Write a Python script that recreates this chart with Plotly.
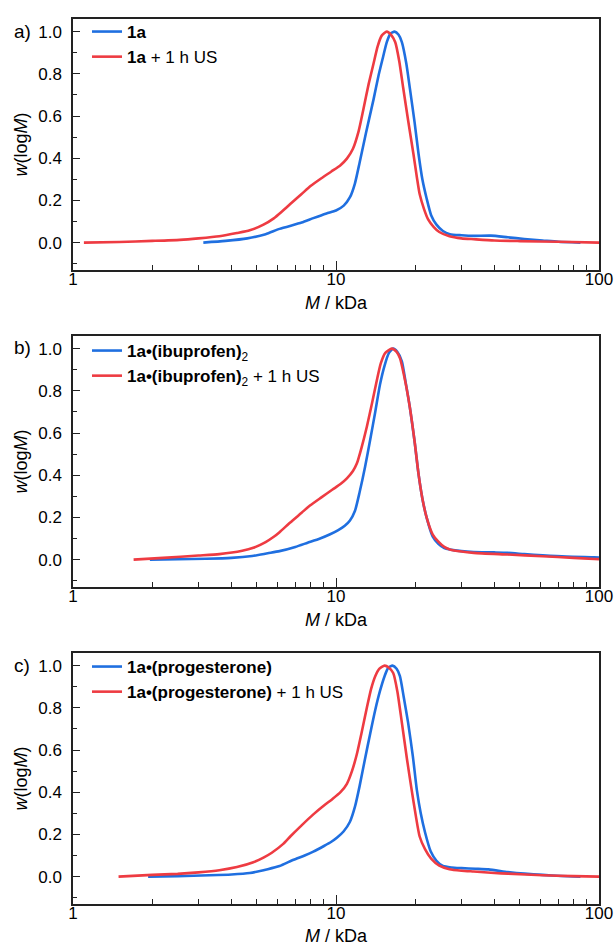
import plotly.graph_objects as go

# ---------------- data ----------------
a_blue_M = [3.13, 3.8, 4.6, 5.4, 6.1, 7.4, 8.2, 9.2, 10.0, 10.7, 11.3, 11.8, 12.3, 13.0, 13.9, 14.5, 15.1, 15.6, 16.1, 16.7,
            17.3, 17.8, 18.5, 19.1, 19.9, 20.6, 21.3, 22.1, 23.0, 24.1, 25.5, 27.1, 30, 33.4, 38.8, 45, 52, 61, 70, 85]
a_blue_w = [0.0, 0.008, 0.02, 0.04, 0.065, 0.095, 0.116, 0.138, 0.152, 0.175, 0.215, 0.28, 0.38, 0.52, 0.68, 0.79, 0.88, 0.95, 0.99, 1.0,
            0.985, 0.95, 0.85, 0.73, 0.57, 0.42, 0.30, 0.21, 0.13, 0.085, 0.055, 0.04, 0.035, 0.032, 0.033, 0.025, 0.017, 0.01, 0.004, 0.0]
a_red_M = [1.1, 1.5, 2.0, 2.55, 3.0, 3.6, 4.2, 4.7, 5.3, 5.8, 6.2, 6.8, 7.4, 8.0, 8.8, 9.6, 10.4, 11.0, 11.6, 12.2, 12.7, 13.3,
           13.9, 14.4, 14.9, 15.6, 16.2, 16.8, 17.4, 18.0, 18.8, 19.7, 20.3, 20.8, 21.6, 22.4, 23.5, 24.7, 27, 30, 33.4, 40, 50, 70, 100]
a_red_w = [0.0, 0.003, 0.008, 0.013, 0.02, 0.03, 0.045, 0.058, 0.085, 0.115, 0.145, 0.19, 0.23, 0.268, 0.305, 0.337, 0.367, 0.398, 0.445, 0.53, 0.63, 0.75,
           0.85, 0.93, 0.98, 1.0, 0.985, 0.95, 0.86, 0.735, 0.58, 0.42, 0.31, 0.23, 0.16, 0.11, 0.075, 0.05, 0.03, 0.02, 0.016, 0.01, 0.007, 0.004, 0.0]

b_blue_M = [1.96, 2.5, 3.2, 4.0, 4.8, 5.5, 6.1, 7.0, 7.8, 8.7, 9.5, 10.2, 10.8, 11.3, 11.8, 12.3, 12.9, 13.5, 14.1, 14.7, 15.3, 15.9, 16.5,
            17.1, 17.8, 18.4, 19.1, 19.9, 20.6, 21.3, 22.1, 23.3, 24.5, 25.8, 27.1, 30, 33.4, 40, 45, 52, 61, 75, 96, 100]
b_blue_w = [0.0, 0.002, 0.004, 0.008, 0.017, 0.03, 0.04, 0.06, 0.08, 0.1, 0.12, 0.14, 0.16, 0.185, 0.23, 0.32, 0.44, 0.57, 0.7, 0.83, 0.92, 0.98, 1.0,
            0.985, 0.94, 0.84, 0.72, 0.56, 0.405, 0.29, 0.2, 0.11, 0.075, 0.055, 0.048, 0.04, 0.036, 0.034, 0.032, 0.026, 0.02, 0.014, 0.011, 0.01]
b_red_M = [1.7, 2.2, 3.0, 3.6, 4.4, 4.85, 5.4, 5.8, 6.1, 6.7, 7.4, 7.96, 8.8, 9.7, 10.4, 11.0, 11.6, 12.0, 12.5, 13.1, 13.7, 14.3, 14.8, 15.4, 16.3,
           17.0, 17.5, 18.3, 19.1, 19.9, 20.6, 21.3, 22.1, 23.3, 24.5, 25.8, 27.1, 30, 33.4, 45, 61, 80, 96, 100]
b_red_w = [0.0, 0.008, 0.019, 0.026, 0.042, 0.056, 0.083, 0.108, 0.13, 0.176, 0.222, 0.256, 0.295, 0.332, 0.358, 0.385, 0.42, 0.455, 0.53, 0.63, 0.74, 0.85, 0.93, 0.98, 1.0,
           0.985, 0.955, 0.85, 0.72, 0.56, 0.405, 0.29, 0.2, 0.12, 0.085, 0.06, 0.048, 0.038, 0.032, 0.024, 0.016, 0.008, 0.003, 0.002]

c_blue_M = [1.93, 2.5, 3.3, 4.0, 4.7, 5.5, 6.1, 6.9, 7.6, 8.2, 9.0, 9.6, 10.1, 10.7, 11.3, 11.8, 12.3, 12.9, 13.5, 14.1, 14.7, 15.3, 15.8, 16.4,
            17.0, 17.5, 18.1, 18.8, 19.6, 20.3, 21.0, 21.8, 22.9, 24.1, 25.5, 27.5, 30, 34, 38, 45, 52, 61, 72, 85]
c_blue_w = [0.0, 0.002, 0.006, 0.01, 0.017, 0.035, 0.05, 0.08, 0.1, 0.118, 0.145, 0.165, 0.185, 0.215, 0.26, 0.33, 0.43, 0.56, 0.68, 0.79, 0.88, 0.95, 0.99, 1.0,
            0.985, 0.95, 0.85, 0.73, 0.57, 0.41, 0.3, 0.21, 0.12, 0.075, 0.05, 0.043, 0.04, 0.037, 0.034, 0.022, 0.014, 0.008, 0.003, 0.0]
c_red_M = [1.49, 2.0, 2.5, 3.0, 3.6, 4.2, 4.85, 5.3, 5.7, 6.3, 6.7, 7.4, 8.2, 9.0, 9.7, 10.4, 11.0, 11.5, 12.0, 12.5, 13.1, 13.6, 14.1, 14.6, 15.3,
           15.9, 16.5, 17.1, 17.8, 18.6, 19.4, 20.1, 20.8, 21.8, 23.0, 24.7, 27, 30, 33.4, 40, 45, 61, 80, 100]
c_red_w = [0.0, 0.008, 0.013, 0.02, 0.03, 0.045, 0.068, 0.09, 0.113, 0.155, 0.19, 0.243, 0.295, 0.337, 0.368, 0.4, 0.44, 0.5, 0.58, 0.68, 0.8, 0.89, 0.95, 0.985, 1.0,
           0.99, 0.965, 0.88, 0.73, 0.56, 0.41, 0.29, 0.19, 0.13, 0.085, 0.052, 0.035, 0.028, 0.024, 0.017, 0.014, 0.006, 0.002, 0.0]

legend_names = [
    ("<b>1a</b>", "<b>1a</b> + 1 h US"),
    ("<b>1a•(ibuprofen)</b><sub>2</sub>", "<b>1a•(ibuprofen)</b><sub>2</sub> + 1 h US"),
    ("<b>1a•(progesterone)</b>", "<b>1a•(progesterone)</b> + 1 h US"),
]
panel_labels = ["a)", "b)", "c)"]
x_ticks = [1, 10, 100]
x_minor = [2, 3, 4, 5, 6, 7, 8, 9, 20, 30, 40, 50, 60, 70, 80, 90]
y_ticks = [0.0, 0.2, 0.4, 0.6, 0.8, 1.0]

BLUE = "#1f6fe0"
RED = "#ee3b42"
FONT = "Liberation Sans, Arial, sans-serif"
W, H = 614, 946

panels = [
    (a_blue_M, a_blue_w, a_red_M, a_red_w),
    (b_blue_M, b_blue_w, b_red_M, b_red_w),
    (c_blue_M, c_blue_w, c_red_M, c_red_w),
]
# frame pixel boxes (top, bottom)
frames = [(19, 270), (336, 587), (653, 904)]
legend_dy = [-5, -3, -4]
x_left, x_right = 73, 599

fig = go.Figure()
layout = dict(width=W, height=H, margin=dict(l=0, r=0, t=0, b=0, autoexpand=False),
              paper_bgcolor="white", plot_bgcolor="white",
              font=dict(family=FONT, size=17, color="black"), annotations=[])

for i, (bM, bw, rM, rw) in enumerate(panels):
    n = "" if i == 0 else str(i + 1)
    leg = "legend" if i == 0 else f"legend{i+1}"
    fig.add_trace(go.Scatter(x=bM, y=bw, mode="lines", name=legend_names[i][0],
                             line=dict(color=BLUE, width=2.6, shape="spline", smoothing=0.6),
                             xaxis="x" + n, yaxis="y" + n, legend=leg))
    fig.add_trace(go.Scatter(x=rM, y=rw, mode="lines", name=legend_names[i][1],
                             line=dict(color=RED, width=2.6, shape="spline", smoothing=0.6),
                             xaxis="x" + n, yaxis="y" + n, legend=leg))
    top, bot = frames[i]
    ydom = [1 - bot / H, 1 - top / H]
    axis_common = dict(showline=True, mirror=True, linecolor="#222", linewidth=1.5,
                       showgrid=False, zeroline=False, ticks="inside", tickcolor="#222",
                       tickwidth=1.3, tickfont=dict(size=17, family=FONT), automargin=False)
    layout["xaxis" + n] = dict(axis_common, type="log", range=[0, 2],
                               domain=[x_left / W, x_right / W], anchor="y" + n,
                               tickvals=x_ticks, ticktext=[str(v) for v in x_ticks], ticklen=9,
                               ticklabelstandoff=-7,
                               minor=dict(tickvals=x_minor, ticks="inside", ticklen=5,
                                          tickcolor="#222", tickwidth=1.3, showgrid=False),
                               title=dict(text="<i>M</i> / kDa", font=dict(size=18, family=FONT), standoff=8))
    layout["yaxis" + n] = dict(axis_common, range=[-0.13, 1.06], domain=ydom, anchor="x" + n,
                               tickvals=y_ticks, ticktext=[f"{v:.1f}" for v in y_ticks], ticklen=7,
                               ticklabelstandoff=6,
                               minor=dict(dtick=0.1, tick0=0.1, ticks="inside", ticklen=4,
                                          tickcolor="#222", tickwidth=1.3, showgrid=False),
                               title=dict(text="<i>w</i>(log<i>M</i>)", font=dict(size=18, family=FONT), standoff=6))
    layout[leg] = dict(x=(x_left + 14) / W, y=1 - (top + legend_dy[i]) / H, xanchor="left", yanchor="top",
                       bgcolor="rgba(0,0,0,0)", borderwidth=0, tracegroupgap=0,
                       font=dict(size=17, family=FONT, color="black"), itemwidth=30)
    layout["annotations"].append(dict(text=panel_labels[i], x=22 / W, y=1 - (top + 12) / H,
                                      xref="paper", yref="paper", showarrow=False,
                                      xanchor="center", yanchor="middle",
                                      font=dict(size=19, family=FONT, color="black")))

fig.update_layout(**layout)
fig.write_html("out.html", config={"displayModeBar": False},
               post_script="document.body.style.margin='0';document.body.style.overflow='hidden';")
